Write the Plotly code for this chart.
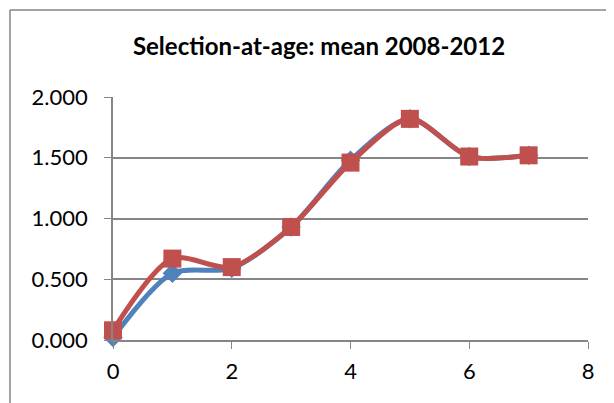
import plotly.graph_objects as go

ages = [0, 1, 2, 3, 4, 5, 6, 7]
series_blue = [0.02, 0.55, 0.59, 0.93, 1.48, 1.82, 1.51, 1.52]
series_red = [0.08, 0.67, 0.60, 0.93, 1.46, 1.82, 1.51, 1.52]
title_text = "Selection-at-age: mean 2008-2012"

OFF = 8  # page body margin
W, H = 614 - OFF, 403 - OFF
L, R, T, B = 113 - OFF, 26, 97 - OFF, 63
pw, ph = W - L - R, H - T - B

fig = go.Figure()
fig.add_trace(go.Scatter(
    x=ages, y=series_blue, mode="lines+markers",
    line=dict(color="#4F81BD", width=5, shape="spline", smoothing=0.8),
    marker=dict(symbol="diamond", size=15, color="#4F81BD"),
    cliponaxis=False, showlegend=False))
fig.add_trace(go.Scatter(
    x=ages, y=series_red, mode="lines+markers",
    line=dict(color="#C0504D", width=5, shape="spline", smoothing=0.8),
    marker=dict(symbol="square", size=18, color="#C0504D"),
    cliponaxis=False, showlegend=False))

bx0 = -(L - 2) / pw
by1 = 1 + (T - 2) / ph
fig.update_layout(
    width=W, height=H,
    margin=dict(l=L, r=R, t=T, b=B, autoexpand=False),
    paper_bgcolor="white", plot_bgcolor="white",
    font=dict(family="Lato, Open Sans, sans-serif", size=22, color="black"),
    title=dict(text="<b>" + title_text + "</b>", x=(319 - OFF) / W, xanchor="center",
               y=1 - (47 - OFF) / H, yanchor="middle", font=dict(size=24)),
    xaxis=dict(range=[0, 8], dtick=2, tick0=0, showgrid=False,
               showline=True, linecolor="#868686", linewidth=1.5,
               ticks="outside", ticklen=7, tickcolor="#868686", zeroline=False,
               ticklabelstandoff=4),
    yaxis=dict(range=[0, 2], dtick=0.5, tickformat=".3f", showgrid=True,
               gridcolor="#868686", gridwidth=1.5,
               showline=True, linecolor="#868686", linewidth=1.5,
               ticks="outside", ticklen=7, tickcolor="#868686", zeroline=False,
               ticklabelstandoff=12),
    shapes=[
        dict(type="line", xref="paper", yref="paper", x0=bx0, x1=bx0,
             y0=-(B + 10) / ph, y1=by1, line=dict(color="#868686", width=1.5)),
        dict(type="line", xref="paper", yref="paper", x0=bx0, x1=1 + (R + 10) / pw,
             y0=by1, y1=by1, line=dict(color="#868686", width=1.5)),
    ],
)
fig.write_html("out.html",
               post_script="document.documentElement.style.overflow='hidden';"
                           "document.body.style.overflow='hidden';")
